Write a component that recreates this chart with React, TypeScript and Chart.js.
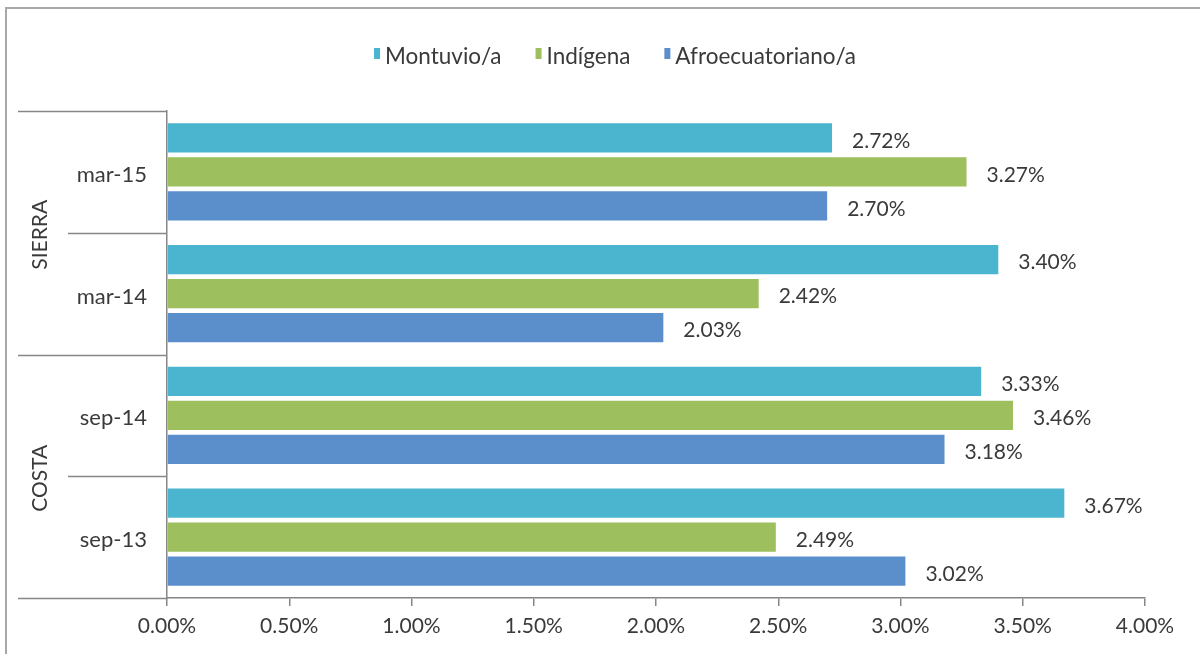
import React, { useEffect, useRef } from 'react';
import { Chart, registerables } from 'chart.js';

Chart.register(...registerables);

const categories = ['mar-15', 'mar-14', 'sep-14', 'sep-13'];
const groupLabels = ['SIERRA', 'COSTA'];
const groupSizes = [2, 2];
const seriesNames = ['Montuvio/a', 'Indígena', 'Afroecuatoriano/a'];
const seriesColors = ['#4BB4CE', '#9DBF5D', '#5B8FCB'];
const montuvio = [2.72, 3.4, 3.33, 3.67];
const indigena = [3.27, 2.42, 3.46, 2.49];
const afro = [2.7, 2.03, 3.18, 3.02];
const xMin = 0;
const xMax = 4;
const xStep = 0.5;

const FONT = 'Lato, "Open Sans", sans-serif';
const TEXT = '#3a3a3a';
const AXIS = '#868686';

const decorPlugin = {
  id: 'decor',
  afterDraw(chart: any) {
    const { ctx, chartArea } = chart;
    const y = chart.scales.y;
    ctx.save();
    // frame
    ctx.strokeStyle = '#a8a8a8';
    ctx.lineWidth = 2;
    ctx.beginPath();
    ctx.moveTo(6, 654);
    ctx.lineTo(6, 8);
    ctx.lineTo(1200, 8);
    ctx.stroke();

    // category separators
    const n = categories.length;
    const step = (y.getPixelForValue(1) - y.getPixelForValue(0));
    const groupBounds = new Set<number>();
    let acc = 0;
    groupBounds.add(0);
    groupSizes.forEach((s) => { acc += s; groupBounds.add(acc); });
    ctx.strokeStyle = AXIS;
    ctx.lineWidth = 1.5;
    for (let i = 0; i <= n; i++) {
      const py = Math.round(y.getPixelForValue(0) - step / 2 + i * step) + 0.5;
      const x0 = groupBounds.has(i) ? 18 : 68;
      ctx.beginPath();
      ctx.moveTo(x0, py);
      ctx.lineTo(chartArea.left, py);
      ctx.stroke();
    }

    // group labels
    ctx.fillStyle = TEXT;
    ctx.font = `21px ${FONT}`;
    ctx.textAlign = 'center';
    ctx.textBaseline = 'middle';
    let start = 0;
    groupLabels.forEach((g, gi) => {
      const end = start + groupSizes[gi];
      const top = y.getPixelForValue(0) - step / 2 + start * step;
      const bot = y.getPixelForValue(0) - step / 2 + end * step;
      ctx.save();
      ctx.translate(40, (top + bot) / 2 + 2);
      ctx.rotate(-Math.PI / 2);
      ctx.fillText(g, 0, 0);
      ctx.restore();
      start = end;
    });

    // value labels
    ctx.textAlign = 'left';
    chart.data.datasets.forEach((ds: any, di: number) => {
      const meta = chart.getDatasetMeta(di);
      meta.data.forEach((bar: any, i: number) => {
        const v = ds.data[i] as number;
        ctx.fillText(v.toFixed(2) + '%', bar.x + 20, bar.y + 3);
      });
    });

    // legend
    ctx.font = `22.5px ${FONT}`;
    const markerW = 6;
    const markerH = 11;
    const gapAfterMarker = 5;
    const itemGap = 34;
    const widths = seriesNames.map((s) => ctx.measureText(s).width);
    const total = widths.reduce((a, w) => a + markerW + gapAfterMarker + w, 0) + itemGap * (seriesNames.length - 1);
    let lx = 615 - total / 2;
    const ly = 57;
    seriesNames.forEach((s, i) => {
      ctx.fillStyle = seriesColors[i];
      ctx.fillRect(lx, ly - 9, markerW, markerH);
      lx += markerW + gapAfterMarker;
      ctx.fillStyle = TEXT;
      ctx.fillText(s, lx, ly);
      lx += widths[i] + itemGap;
    });
    ctx.restore();
  },
};

export default function App() {
  const ref = useRef<HTMLCanvasElement>(null);
  useEffect(() => {
    if (!ref.current) return;
    Chart.defaults.font.family = FONT;
    const chart = new Chart(ref.current, {
      type: 'bar',
      data: {
        labels: categories,
        datasets: [
          { label: seriesNames[0], data: montuvio, backgroundColor: seriesColors[0] },
          { label: seriesNames[1], data: indigena, backgroundColor: seriesColors[1] },
          { label: seriesNames[2], data: afro, backgroundColor: seriesColors[2] },
        ].map((d) => ({ ...d, barPercentage: 0.86, categoryPercentage: 0.84 })),
      },
      options: {
        indexAxis: 'y',
        responsive: false,
        animation: false,
        devicePixelRatio: 1,
        layout: { padding: { top: 111, right: 55, bottom: 0, left: 0 } },
        plugins: { legend: { display: false }, tooltip: { enabled: false } },
        scales: {
          x: {
            min: xMin,
            max: xMax,
            ticks: {
              stepSize: xStep,
              callback: (v: any) => Number(v).toFixed(2) + '%',
              font: { size: 21, family: FONT },
              color: TEXT,
              padding: 8,
            },
            grid: { drawOnChartArea: false, tickLength: 8, color: AXIS, lineWidth: 1.5 },
            border: { color: AXIS, width: 1.5 },
            afterFit: (s: any) => { s.height = 56; },
          },
          y: {
            ticks: {
              font: { size: 22, family: FONT },
              color: TEXT,
              padding: 20,
              labelOffset: 3,
            },
            grid: { display: false, drawTicks: false },
            border: { color: AXIS, width: 1.5 },
            afterFit: (s: any) => { s.width = 167; },
          },
        },
      },
      plugins: [decorPlugin],
    } as any);
    return () => chart.destroy();
  }, []);
  return (
    <div style={{ position: 'absolute', left: 0, top: 0, width: 1200, height: 654, background: '#fff' }}>
      <canvas ref={ref} width={1200} height={654} style={{ display: 'block' }} />
    </div>
  );
}
